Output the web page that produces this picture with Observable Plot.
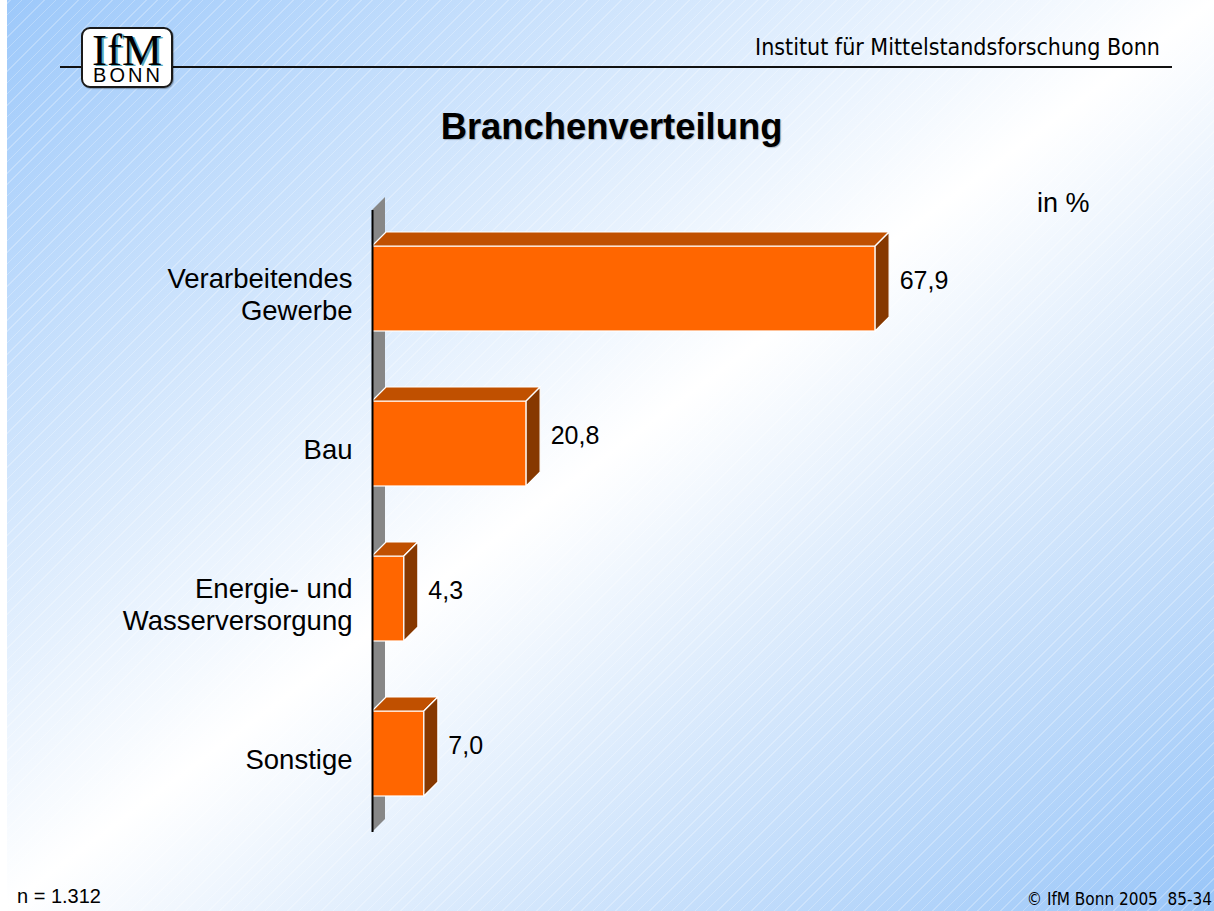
<!DOCTYPE html>
<html><head><meta charset="utf-8">
<script src="https://cdn.jsdelivr.net/npm/d3@7"></script>
<script src="https://cdn.jsdelivr.net/npm/@observablehq/plot@0.6"></script>
<style>
html,body{margin:0;padding:0;}
body{width:1214px;height:911px;position:relative;overflow:hidden;
 background:
  repeating-linear-gradient(135deg, rgba(255,255,255,0) 0px, rgba(255,255,255,0) 7px, rgba(255,255,255,0.25) 7px, rgba(255,255,255,0.25) 8px),
  linear-gradient(to bottom right, #9cc8fa 0%, #ffffff 50%, #98c5f8 100%);}
.t{position:absolute;line-height:1;white-space:pre;color:#000;}
#strip{position:absolute;left:0;top:0;width:7px;height:911px;background:#fff;}
#hline{position:absolute;left:60px;top:66px;width:1112px;height:2px;background:#111;}
#logo{position:absolute;left:81px;top:27px;width:92px;height:61px;box-sizing:border-box;border:2px solid #1a1a1a;border-radius:9px;background:#fff;box-shadow:1px 1px 1px rgba(0,0,0,0.3);}
#ifm{position:absolute;left:0;width:88px;top:3px;text-align:center;font:45px 'Liberation Serif','Times New Roman',serif;line-height:36px;height:36px;color:#000;text-shadow:2px 1px 0 #5aa7b8;}
#bonn{position:absolute;left:0;width:90px;top:39px;text-align:center;font:20px 'Liberation Sans',Arial,sans-serif;line-height:14px;height:14px;letter-spacing:3px;color:#000;}
#chart{position:absolute;left:0;top:0;}
</style></head>
<body>
<div id="strip"></div>
<div id="hline"></div>
<div id="logo"><div id="ifm">IfM</div><div id="bonn">BONN</div></div>
<div class="t" style="right:54px;top:36px;font:23px 'DejaVu Sans Condensed','DejaVu Sans',sans-serif;line-height:1;">Institut für Mittelstandsforschung Bonn</div>
<div class="t" style="left:0;width:1223px;text-align:center;top:109px;font:bold 36.4px 'Liberation Sans',Arial,sans-serif;line-height:1;text-shadow:1px 1px 1px rgba(0,0,0,0.25);">Branchenverteilung</div>
<div class="t" style="left:1037px;top:190px;font:27px 'Liberation Sans',Arial,sans-serif;line-height:1;">in %</div>
<div class="t" style="left:17px;top:886px;font:20px 'Liberation Sans',Arial,sans-serif;line-height:1;">n = 1.312</div>
<div class="t" style="right:2px;top:891px;font:17px 'DejaVu Sans Condensed','DejaVu Sans',sans-serif;line-height:1;">© IfM Bonn 2005  85-34</div>
<div id="chart"></div>
<script>
const categories = ["Verarbeitendes\nGewerbe", "Bau", "Energie- und\nWasserversorgung", "Sonstige"];
const values = [67.9, 20.8, 4.3, 7.0];
const valueLabels = ["67,9", "20,8", "4,3", "7,0"];

const data = categories.map((c, i) => ({cat: c, value: values[i], label: valueLabels[i]}));
const D = 14;

function wall(index, scales, vals, dims) {
  const g = d3.create("svg:g");
  const x0 = scales.x(0);
  const yTop = dims.marginTop, yBot = dims.height - dims.marginBottom;
  g.append("polygon")
    .attr("points", [[x0, yTop], [x0 + 13, yTop - 13], [x0 + 13, yBot - 13], [x0, yBot]].map(p => p.join(",")).join(" "))
    .attr("fill", "#878787");
  return g.node();
}

function faces(index, scales) {
  const g = d3.create("svg:g").attr("stroke", "white").attr("stroke-width", 1.2).attr("stroke-linejoin", "round");
  const bw = scales.y.bandwidth();
  const x0 = scales.x(0);
  for (const d of data) {
    const yt = scales.y(d.cat), yb = yt + bw, x1 = scales.x(d.value);
    g.append("polygon")
      .attr("points", [[x0, yt], [x1, yt], [x1 + D, yt - D], [x0 + D, yt - D]].map(p => p.join(",")).join(" "))
      .attr("fill", "#c05000");
    g.append("polygon")
      .attr("points", [[x1, yt], [x1 + D, yt - D], [x1 + D, yb - D], [x1, yb]].map(p => p.join(",")).join(" "))
      .attr("fill", "#863800");
  }
  return g.node();
}

const chart = Plot.plot({
  width: 1214, height: 911,
  marginLeft: 372, marginRight: 101, marginTop: 210, marginBottom: 79,
  x: {domain: [0, 100], axis: null},
  y: {domain: categories, paddingInner: 0.453, paddingOuter: 0.2265, axis: null},
  style: {background: "transparent", fontFamily: "'Liberation Sans', Arial, sans-serif", overflow: "visible"},
  marks: [
    wall,
    Plot.barX(data, {y: "cat", x: "value", fill: "#ff6600", stroke: "white", strokeWidth: 1.2}),
    faces,
    Plot.ruleX([0], {stroke: "black", strokeWidth: 2}),
    Plot.text(data, {y: "cat", x: 0, text: "cat", textAnchor: "end", dx: -20, dy: 5, fontSize: 27.5, lineHeight: 1.17, fill: "black"}),
    Plot.text(data, {y: "cat", x: "value", text: "label", textAnchor: "start", dx: 24, dy: -8, fontSize: 25, fill: "black"})
  ]
});
document.getElementById("chart").appendChild(chart);
</script>
</body></html>
